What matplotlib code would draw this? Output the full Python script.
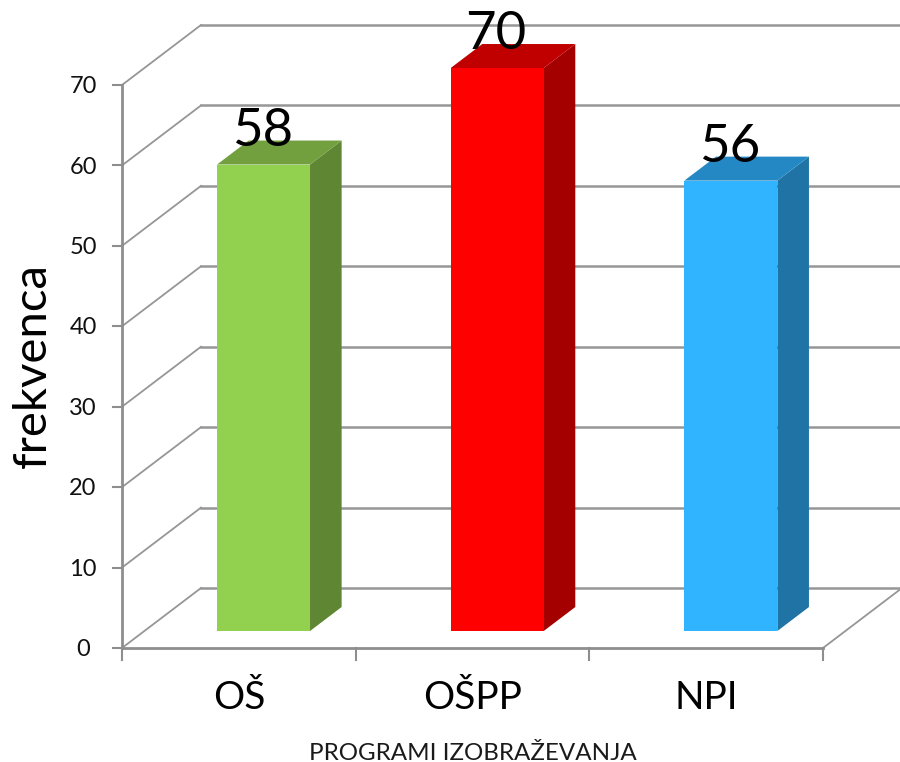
import matplotlib
matplotlib.use('Agg')
import matplotlib.pyplot as plt
from matplotlib.patches import Polygon

# Data
categories = ['OŠ', 'OŠPP', 'NPI']
values = [58, 70, 56]
y_ticks = [0, 10, 20, 30, 40, 50, 60, 70]
front_colors = ['#92D050', '#FF0000', '#31B4FF']
side_colors = ['#5F8633', '#A50000', '#1F74A5']
top_colors = ['#73A03F', '#C00000', '#2488C4']

W, H = 900, 762
plt.rcParams['font.family'] = ['Lato', 'DejaVu Sans']

fig = plt.figure(figsize=(W / 100, H / 100), dpi=100)
# axes covers the front plane of the 3D box
ax = fig.add_axes([122 / W, 1 - 648 / H, (823 - 122) / W, (648 - 85) / H])
ax.set_xlim(0, 3)
ax.set_ylim(0, 70)
ax.axis('off')

# depth of the box in data units
px_x = 701 / 3
px_y = 563 / 70
depth_x = 79 / px_x
depth_y = 60 / px_y
grid_col = '#969696'
axis_col = '#8E8E8E'


def proj(x, y, d=0.0):
    return x + d * depth_x, y + d * depth_y


def line(p, q, color=grid_col, lw=1.8):
    ax.plot([p[0], q[0]], [p[1], q[1]], color=color, lw=lw, clip_on=False,
            solid_capstyle='projecting')


# walls and gridlines
for v in y_ticks:
    line(proj(0, v), proj(0, v, 1), lw=1.3)
    line(proj(0, v, 1), proj(3, v, 1))
line(proj(3, 0), proj(3, 0, 1), lw=1.3)
line(proj(0, 0), proj(3, 0), color=axis_col, lw=2)
line(proj(0, 0), proj(0, 70), color=axis_col, lw=2)
for i in range(4):
    line((i, 0), (i, -12 / px_y), color=axis_col, lw=1.5)
for v in y_ticks:
    line((0, v), (-9 / px_x, v), color=axis_col, lw=1.5)

# bars
bar_w = 93 / px_x
d0, d1 = 0.283, 0.683
for i, v in enumerate(values):
    x0 = i + 0.5 - bar_w / 2 + 0.01
    x1 = x0 + bar_w
    front = [proj(x0, 0, d0), proj(x1, 0, d0), proj(x1, v, d0), proj(x0, v, d0)]
    side = [proj(x1, 0, d0), proj(x1, 0, d1), proj(x1, v, d1), proj(x1, v, d0)]
    top = [proj(x0, v, d0), proj(x1, v, d0), proj(x1, v, d1), proj(x0, v, d1)]
    ax.add_patch(Polygon(side, fc=side_colors[i], ec='none', clip_on=False, zorder=3))
    ax.add_patch(Polygon(top, fc=top_colors[i], ec='none', clip_on=False, zorder=3))
    ax.add_patch(Polygon(front, fc=front_colors[i], ec='none', clip_on=False, zorder=4))
    lx, ly = proj(x0 + bar_w / 2, v, d0)
    ax.text(lx - 0.005, ly + 1.2, str(v), ha='center', va='bottom', fontsize=38, color='black',
            clip_on=False, zorder=5)
    ax.text(i + 0.5, -4.0, categories[i], ha='center', va='top', fontsize=28, color='black')

for v in y_ticks:
    ax.text(-39 / px_x, v - 0.2, str(v), ha='center', va='center', fontsize=17, color='#111111')

fig.text(33 / W, 1 - 366 / H, 'frekvenca', rotation=90, ha='center', va='center',
         fontsize=34, color='black')
fig.text(473 / W, 1 - 753 / H, 'PROGRAMI IZOBRAŽEVANJA', ha='center', va='center',
         fontsize=17.4, color='#1a1a1a')

fig.savefig('out.png', dpi=100)
